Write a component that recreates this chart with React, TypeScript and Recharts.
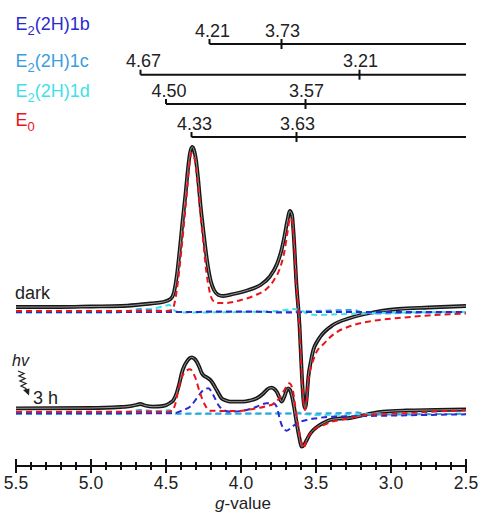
import React from 'react';
import { LineChart, Line, XAxis, YAxis, ReferenceLine } from 'recharts';

const FONT = '"Liberation Sans", Arial, Helvetica, sans-serif';

// ---------- Dark spectrum (g-value, signal) ----------
const darkG = [5.5, 5.2, 5.0, 4.8, 4.7, 4.6, 4.52, 4.47, 4.45, 4.43, 4.41, 4.39, 4.37, 4.35, 4.34, 4.325, 4.31, 4.3, 4.285, 4.27, 4.25, 4.225, 4.2, 4.18, 4.15, 4.12, 4.05, 3.95, 3.87, 3.81, 3.76, 3.73, 3.71, 3.69, 3.675, 3.66, 3.65, 3.63, 3.61, 3.595, 3.585, 3.573, 3.562, 3.551, 3.535, 3.518, 3.49, 3.473, 3.387, 3.273, 3.14, 2.95, 2.75, 2.5];
const darkExp = [159, 159, 159.5, 160, 161, 162.5, 164, 167, 172, 188, 214, 244, 272, 302, 313, 319, 314, 306, 286, 261, 234, 204, 184, 176, 171, 170, 172, 176, 181, 189, 202, 216, 230, 246, 255, 251, 234, 181, 141, 93, 68, 58, 68, 89, 104, 116, 125, 129, 141, 148, 153, 157, 158.5, 160];

const darkE0G = [5.5, 4.8, 4.5, 4.46, 4.44, 4.42, 4.4, 4.38, 4.36, 4.345, 4.33, 4.32, 4.3, 4.285, 4.27, 4.25, 4.23, 4.21, 4.19, 4.16, 4.1, 4.0, 3.9, 3.83, 3.78, 3.74, 3.71, 3.69, 3.675, 3.665, 3.65, 3.63, 3.61, 3.595, 3.585, 3.573, 3.562, 3.551, 3.53, 3.5, 3.45, 3.38, 3.27, 3.13, 2.95, 2.75, 2.5];
const darkE0 = [155, 155, 155, 156, 165, 185, 212, 242, 275, 300, 313, 312, 298, 278, 252, 222, 193, 175, 166, 163, 163, 166, 171, 177, 186, 198, 215, 234, 247, 248, 232, 180, 139, 92, 66, 56, 66, 86, 100, 113, 122, 132, 140, 145, 148, 150.5, 152.5];

const dark1dG = [5.5, 4.8, 4.7, 4.6, 4.52, 4.48, 4.46, 4.44, 4.4, 4.0, 3.75, 3.65, 3.6, 3.57, 3.5, 3.4, 3.2, 2.95, 2.5];
const dark1d = [154, 154, 155, 157, 159.5, 161, 159, 155, 153.5, 154, 155, 157, 156, 153, 151, 151.5, 152.5, 153.5, 154];

const dark1cG = [5.5, 4.85, 4.75, 4.67, 4.6, 4.5, 4.4, 3.8, 3.6, 3.4, 3.25, 3.2, 3.1, 2.9, 2.5];
const dark1c = [153.5, 153.5, 155, 157, 156, 155, 154, 154, 154.5, 155.5, 156, 154, 152.5, 153, 153.5];

const dark1bG = [5.5, 4.3, 4.21, 3.9, 3.73, 3.5, 2.5];
const dark1b = [154, 154, 154.5, 154.5, 153.5, 154, 154];

// ---------- 3 h illuminated spectrum ----------
const lightG = [5.5, 5.0, 4.8, 4.762, 4.7, 4.673, 4.64, 4.587, 4.52, 4.473, 4.45, 4.429, 4.41, 4.395, 4.378, 4.362, 4.345, 4.329, 4.312, 4.295, 4.278, 4.262, 4.245, 4.229, 4.212, 4.195, 4.162, 4.129, 4.1, 4.073, 3.985, 3.94, 3.895, 3.855, 3.829, 3.81, 3.795, 3.778, 3.762, 3.745, 3.729, 3.715, 3.707, 3.695, 3.685, 3.673, 3.662, 3.645, 3.629, 3.612, 3.595, 3.58, 3.562, 3.54, 3.518, 3.485, 3.451, 3.407, 3.34, 3.273, 3.15, 3.053, 2.9, 2.7, 2.5];
const lightExp = [57.7, 58, 59, 59.3, 61, 62, 60.5, 59.3, 60, 63, 66, 73, 83, 93, 100, 104.3, 107.5, 108.7, 107.5, 104.3, 99, 93, 90, 88.7, 87, 84.3, 76, 67.7, 65.5, 64.3, 64.3, 65.5, 67.7, 72, 76, 78, 78.3, 77, 74.3, 69, 64.3, 68, 71, 76, 77.7, 76, 71, 58, 43, 29, 19.3, 21, 26, 32, 36, 40, 43, 46, 47.5, 48, 52, 54.3, 55.5, 56, 56.5];

const lightE0G = [5.5, 4.5, 4.46, 4.44, 4.407, 4.373, 4.34, 4.307, 4.273, 4.24, 4.207, 4.1, 4.029, 3.933, 3.845, 3.778, 3.745, 3.711, 3.678, 3.655, 3.629, 3.595, 3.584, 3.562, 3.54, 3.518, 3.45, 3.4, 3.27, 3.16, 2.94, 2.75, 2.5];
const lightE0 = [54.3, 54.3, 55, 61, 83, 94.3, 96.7, 89.3, 73, 61, 55.3, 55, 55, 56.7, 59.3, 62.7, 67.7, 76, 82.7, 76, 49.3, 22.7, 17.7, 26, 32, 36, 41, 44, 48, 51, 52.5, 54, 56];

const light1bG = [5.5, 4.45, 4.385, 4.34, 4.295, 4.251, 4.218, 4.185, 4.151, 4.118, 4.073, 3.985, 3.895, 3.829, 3.785, 3.762, 3.74, 3.718, 3.695, 3.662, 3.629, 3.562, 3.495, 3.407, 3.16, 2.5];
const light1b = [52.7, 52.7, 56, 59.3, 67.7, 76, 77.7, 71, 61, 56, 54.3, 55.3, 59.3, 62.7, 62.7, 59.3, 46, 37.7, 35.3, 38.7, 42.7, 46, 47.7, 49.3, 50, 51.7];

const light1dG = [5.5, 4.8, 4.7, 4.6, 4.52, 4.48, 4.46, 4.44, 4.4, 3.7, 3.6, 3.57, 3.5, 3.35, 3.1, 2.5];
const light1d = [52, 52, 52.5, 54, 55.5, 56, 54.5, 52.5, 52, 52.5, 53.5, 52, 51, 51.3, 51.8, 52];

const light1cG = [5.5, 4.85, 4.75, 4.67, 4.6, 4.5, 4.4, 3.6, 3.3, 3.22, 3.18, 3.05, 2.5];
const light1c = [52.5, 52.5, 54, 56, 55, 53.5, 52.5, 52.5, 53, 53.5, 52, 51.5, 52.3];

// ---------- Component g-values (brackets) ----------
const componentNames = ['E2(2H)1b', 'E2(2H)1c', 'E2(2H)1d', 'E0'];
const componentGx = [4.21, 4.67, 4.5, 4.33];
const componentGy = [3.73, 3.21, 3.57, 3.63];
const gxLabels = ['4.21', '4.67', '4.50', '4.33'];
const gyLabels = ['3.73', '3.21', '3.57', '3.63'];

// ---------- Axis ticks ----------
const majorTicks = [5.5, 5.0, 4.5, 4.0, 3.5, 3.0, 2.5];
const majorTickLabels = ['5.5', '5.0', '4.5', '4.0', '3.5', '3.0', '2.5'];
const allTicks = [5.5, 5.4, 5.3, 5.2, 5.1, 5.0, 4.9, 4.8, 4.7, 4.6, 4.5, 4.4, 4.3, 4.2, 4.1, 4.0, 3.9, 3.8, 3.7, 3.6, 3.5, 3.4, 3.3, 3.2, 3.1, 3.0, 2.9, 2.8, 2.7, 2.6, 2.5];

// ---------- styling / layout ----------
const componentColors = ['#2a2ad2', '#3a9ee0', '#3fe0ea', '#e8151d'];
const bracketLevels = [422, 391.3, 362, 329];
const legendBaselines = [29.5, 66.7, 96.7, 125.5];
const bracketEnd = 2.5;

const zip = (gs: number[], vs: number[]) => gs.map((g, i) => ({ g, v: vs[i] }));

const AxisTick = (props: any) => {
  const { x, y, payload } = props;
  const idx = majorTicks.findIndex((t) => Math.abs(t - payload.value) < 1e-6);
  const major = idx >= 0;
  const h = major ? 7 : 4;
  return (
    <g>
      <line x1={x} x2={x} y1={y - h} y2={y + h} stroke="#111" strokeWidth={2} />
      {major && (
        <text x={x} y={y + 22.5} textAnchor="middle" fontSize={17.5} fill="#222" fontFamily={FONT}>
          {majorTickLabels[idx]}
        </text>
      )}
    </g>
  );
};

const renderLegendName = (i: number) => () => {
  const name = componentNames[i];
  const color = componentColors[i];
  const rest = name.slice(2);
  const y = legendBaselines[i];
  return (
    <text x={15.5} y={y} fill={color} fontSize={18} fontFamily={FONT}>
      <tspan>E</tspan>
      <tspan dy={5} fontSize={13}>{name.charAt(1)}</tspan>
      {rest.length > 0 && <tspan dy={-5}>{rest}</tspan>}
    </text>
  );
};

const renderValueLabel = (text: string, dx: number) => (props: any) => {
  const vb = props.viewBox || {};
  return (
    <text x={(vb.x || 0) + dx} y={(vb.y || 0) - 2.5} textAnchor="middle" fontSize={18} fill="#222" fontFamily={FONT}>
      {text}
    </text>
  );
};

const renderAxisLabel = () => (
  <g fontFamily={FONT} fill="#222">
    <text x={243} y={508.5} textAnchor="middle" fontSize={17}>
      <tspan fontStyle="italic">g</tspan>-value
    </text>
    <text x={15} y={298.5} fontSize={18}>dark</text>
    <text x={12} y={366} fontSize={16} fontStyle="italic">hv</text>
    <path d="M18,371 L24,373.5 L19,376 L25,378.5 L20,381 L26,383.5 L21,386 L26,388.5 L25.5,390.5" fill="none" stroke="#222" strokeWidth={1.3} />
    <path d="M23,390 L29.5,388.5 L29,395.5 Z" fill="#222" />
    <text x={33} y={404} fontSize={18}>3 h</text>
  </g>
);

export default function App() {
  const dash = '6 4';
  return (
    <div style={{ position: 'absolute', left: 0, top: 0, background: '#fff' }}>
      <LineChart width={482} height={512} margin={{ top: 0, right: 16, bottom: 6, left: 16 }}>
        <XAxis
          dataKey="g"
          type="number"
          domain={[2.5, 5.5]}
          reversed
          ticks={allTicks}
          interval={0}
          tickLine={false}
          tickSize={0}
          tickMargin={0}
          height={40}
          axisLine={{ stroke: '#111', strokeWidth: 2 }}
          tick={<AxisTick />}
          label={{ content: renderAxisLabel }}
          allowDataOverflow
        />
        <YAxis type="number" domain={[0, 466]} hide allowDataOverflow />

        {/* experimental (black) and simulated (grey) traces */}
        <Line data={zip(darkG, darkExp)} dataKey="v" type="monotone" stroke="#161616" strokeWidth={3.8} dot={false} isAnimationActive={false} />
        <Line data={zip(darkG, darkExp)} dataKey="v" type="monotone" stroke="#9a9a9a" strokeWidth={1} dot={false} isAnimationActive={false} />
        <Line data={zip(lightG, lightExp)} dataKey="v" type="monotone" stroke="#161616" strokeWidth={3.8} dot={false} isAnimationActive={false} />
        <Line data={zip(lightG, lightExp)} dataKey="v" type="monotone" stroke="#9a9a9a" strokeWidth={1} dot={false} isAnimationActive={false} />

        {/* component simulations */}
        <Line data={zip(dark1dG, dark1d)} dataKey="v" type="monotone" stroke={componentColors[2]} strokeWidth={2} strokeDasharray={dash} dot={false} isAnimationActive={false} />
        <Line data={zip(light1dG, light1d)} dataKey="v" type="monotone" stroke={componentColors[2]} strokeWidth={2} strokeDasharray={dash} dot={false} isAnimationActive={false} />
        <Line data={zip(dark1cG, dark1c)} dataKey="v" type="monotone" stroke={componentColors[1]} strokeWidth={2} strokeDasharray={dash} dot={false} isAnimationActive={false} />
        <Line data={zip(light1cG, light1c)} dataKey="v" type="monotone" stroke={componentColors[1]} strokeWidth={2} strokeDasharray={dash} dot={false} isAnimationActive={false} />
        <Line data={zip(dark1bG, dark1b)} dataKey="v" type="monotone" stroke={componentColors[0]} strokeWidth={2} strokeDasharray={dash} dot={false} isAnimationActive={false} />
        <Line data={zip(light1bG, light1b)} dataKey="v" type="monotone" stroke={componentColors[0]} strokeWidth={2} strokeDasharray={dash} dot={false} isAnimationActive={false} />
        <Line data={zip(darkE0G, darkE0)} dataKey="v" type="monotone" stroke={componentColors[3]} strokeWidth={2} strokeDasharray={dash} dot={false} isAnimationActive={false} />
        <Line data={zip(lightE0G, lightE0)} dataKey="v" type="monotone" stroke={componentColors[3]} strokeWidth={2} strokeDasharray={dash} dot={false} isAnimationActive={false} />

        {/* g-value brackets */}
        {componentNames.map((name, i) => (
          <ReferenceLine
            key={'line' + name}
            segment={[{ x: componentGx[i], y: bracketLevels[i] }, { x: bracketEnd, y: bracketLevels[i] }]}
            stroke="#111"
            strokeWidth={2}
            ifOverflow="visible"
            label={renderLegendName(i)}
          />
        ))}
        {componentNames.map((name, i) => (
          <ReferenceLine
            key={'tx' + name}
            segment={[{ x: componentGx[i], y: bracketLevels[i] }, { x: componentGx[i], y: bracketLevels[i] + 5 }]}
            stroke="#111"
            strokeWidth={2}
            ifOverflow="visible"
            label={renderValueLabel(gxLabels[i], 3)}
          />
        ))}
        {componentNames.map((name, i) => (
          <ReferenceLine
            key={'ty' + name}
            segment={[{ x: componentGy[i], y: bracketLevels[i] - 5 }, { x: componentGy[i], y: bracketLevels[i] + 5 }]}
            stroke="#111"
            strokeWidth={2}
            ifOverflow="visible"
            label={renderValueLabel(gyLabels[i], 1)}
          />
        ))}
      </LineChart>
    </div>
  );
}
